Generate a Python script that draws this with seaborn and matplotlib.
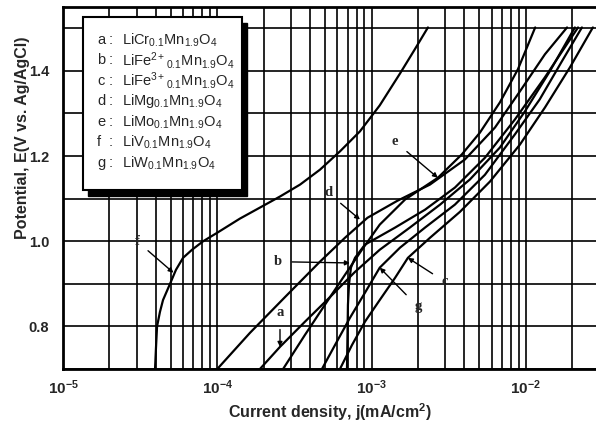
import numpy as np
import pandas as pd
import matplotlib
matplotlib.use("Agg")
import matplotlib.pyplot as plt
import seaborn as sns
from matplotlib.ticker import LogLocator, NullFormatter
from matplotlib.patches import Rectangle

# ---------------- data ----------------
a_j = [1.89e-4, 2.55e-4, 3.70e-4, 5.38e-4, 7.81e-4, 1.13e-3, 1.77e-3, 2.78e-3, 4.34e-3, 6.79e-3, 9.87e-3, 1.43e-2, 2.08e-2]
a_E = [0.70, 0.752, 0.811, 0.869, 0.928, 0.980, 1.032, 1.086, 1.145, 1.220, 1.305, 1.399, 1.502]

b_j = [6.93e-4, 7.03e-4, 7.14e-4, 7.35e-4, 7.81e-4, 9.06e-4, 1.42e-3, 2.22e-3, 3.47e-3, 5.43e-3, 8.50e-3, 1.33e-2, 2.18e-2]
b_E = [0.70, 0.851, 0.898, 0.938, 0.961, 0.992, 1.032, 1.074, 1.126, 1.196, 1.286, 1.385, 1.502]

c_j = [6.24e-4, 7.46e-4, 9.06e-4, 1.13e-3, 1.42e-3, 1.72e-3, 2.39e-3, 3.74e-3, 5.85e-3, 9.16e-3, 1.33e-2, 1.93e-2, 2.72e-2]
c_E = [0.70, 0.756, 0.811, 0.862, 0.914, 0.961, 1.008, 1.069, 1.140, 1.227, 1.314, 1.408, 1.502]

d_j = [1.0e-4, 1.63e-4, 2.75e-4, 4.63e-4, 6.72e-4, 9.40e-4, 1.47e-3, 2.39e-3, 4.03e-3, 6.31e-3, 9.16e-3, 1.33e-2, 1.85e-2]
d_E = [0.70, 0.785, 0.869, 0.952, 1.008, 1.055, 1.095, 1.133, 1.192, 1.267, 1.352, 1.439, 1.502]

e_j = [2.67e-4, 3.70e-4, 4.99e-4, 6.72e-4, 8.66e-4, 1.13e-3, 1.65e-3, 2.69e-3, 3.85e-3, 5.04e-3, 6.79e-3, 8.89e-3, 1.15e-2]
e_E = [0.70, 0.780, 0.851, 0.921, 0.980, 1.039, 1.098, 1.149, 1.204, 1.255, 1.326, 1.404, 1.502]

f_j = [3.95e-5, 4.0e-5, 4.07e-5, 4.25e-5, 4.45e-5, 4.94e-5, 5.40e-5, 6.0e-5, 6.86e-5, 8.1e-5, 1.0e-4,
       1.40e-4, 1.89e-4, 2.55e-4, 3.44e-4, 4.63e-4, 6.24e-4, 8.41e-4, 1.13e-3, 1.53e-3, 1.91e-3, 2.32e-3]
f_E = [0.70, 0.745, 0.80, 0.834, 0.862, 0.90, 0.933, 0.961, 0.980, 1.0, 1.02,
       1.053, 1.079, 1.105, 1.133, 1.168, 1.211, 1.258, 1.319, 1.394, 1.451, 1.502]

g_j = [4.77e-4, 5.79e-4, 7.24e-4, 9.06e-4, 1.13e-3, 1.53e-3, 2.22e-3, 3.47e-3, 5.43e-3, 8.50e-3, 1.23e-2, 1.71e-2, 2.31e-2]
g_E = [0.70, 0.756, 0.820, 0.879, 0.938, 0.985, 1.032, 1.086, 1.156, 1.251, 1.333, 1.422, 1.502]

curve_ids = ["a", "b", "c", "d", "e", "f", "g"]
legend_formulas = [
    r"$\mathrm{LiCr_{0.1}Mn_{1.9}O_4}$",
    r"$\mathrm{LiFe^{2+}{}_{0.1}Mn_{1.9}O_4}$",
    r"$\mathrm{LiFe^{3+}{}_{0.1}Mn_{1.9}O_4}$",
    r"$\mathrm{LiMg_{0.1}Mn_{1.9}O_4}$",
    r"$\mathrm{LiMo_{0.1}Mn_{1.9}O_4}$",
    r"$\mathrm{LiV_{0.1}Mn_{1.9}O_4}$",
    r"$\mathrm{LiW_{0.1}Mn_{1.9}O_4}$",
]

# annotation labels: text position and arrow tip (data coords)
ann_ids = ["a", "b", "c", "d", "e", "f", "g"]
ann_text_j = [2.55e-4, 2.47e-4, 2.99e-3, 5.22e-4, 1.42e-3, 3.02e-5, 2.0e-3]
ann_text_E = [0.832, 0.952, 0.905, 1.114, 1.234, 1.0, 0.846]
ann_tip_j = [2.55e-4, 7.24e-4, 1.72e-3, 8.41e-4, 2.69e-3, 5.2e-5, 1.13e-3]
ann_tip_E = [0.752, 0.949, 0.961, 1.051, 1.149, 0.926, 0.938]

x_ticks = [1e-5, 1e-4, 1e-3, 1e-2]
x_ticklabels = [r"$\mathbf{10^{-5}}$", r"$\mathbf{10^{-4}}$", r"$\mathbf{10^{-3}}$", r"$\mathbf{10^{-2}}$"]
y_ticks = [0.8, 1.0, 1.2, 1.4]
y_ticklabels = ["0.8", "1.0", "1.2", "1.4"]

# ---------------- build table ----------------
series = {"a": (a_j, a_E), "b": (b_j, b_E), "c": (c_j, c_E), "d": (d_j, d_E),
          "e": (e_j, e_E), "f": (f_j, f_E), "g": (g_j, g_E)}
rows = []
for k in curve_ids:
    js, Es = series[k]
    for i, (j, E) in enumerate(zip(js, Es)):
        rows.append({"sample": k, "j": j, "E": E, "order": i})
df = pd.DataFrame(rows)

# ---------------- style ----------------
sns.set_theme(style="white")
plt.rcParams["font.family"] = ["Liberation Sans", "DejaVu Sans"]
plt.rcParams["mathtext.fontset"] = "custom"
plt.rcParams["mathtext.rm"] = "Liberation Sans"
plt.rcParams["mathtext.bf"] = "Liberation Sans:bold"
plt.rcParams["mathtext.it"] = "Liberation Sans:italic"
plt.rcParams["mathtext.sf"] = "Liberation Sans"

fig = plt.figure(figsize=(5.96, 4.26), dpi=100)
ax = fig.add_axes([63 / 596, 57 / 426, 533 / 596, 362 / 426])

sns.lineplot(data=df, x="j", y="E", hue="sample", palette=["black"] * len(curve_ids),
             sort=False, estimator=None, legend=False, linewidth=1.6, ax=ax, zorder=3)

ax.set_xscale("log")
ax.set_xlim(1e-5, 0.0285)
ax.set_ylim(0.7, 1.55)

ax.set_xticks(x_ticks)
ax.set_xticklabels(x_ticklabels, fontsize=11)
ax.xaxis.set_minor_locator(LogLocator(base=10, subs=np.arange(2, 10), numticks=30))
ax.xaxis.set_minor_formatter(NullFormatter())
ax.set_yticks(y_ticks)
ax.set_yticklabels(y_ticklabels, fontsize=10.5, fontweight="bold")
ax.set_yticks(np.round(np.arange(0.7, 1.51, 0.1), 2), minor=True)

ax.grid(which="both", color="black", linewidth=1.2)
ax.set_axisbelow(True)
ax.tick_params(which="both", length=0)
ax.tick_params(axis="y", pad=10)
ax.tick_params(axis="x", pad=7)

for side in ["left", "bottom", "top"]:
    ax.spines[side].set_color("black")
    ax.spines[side].set_linewidth(2.0)
ax.spines["right"].set_visible(False)

ax.set_xlabel(r"Current density, j(mA/cm$\mathbf{^2}$)", fontsize=11.5, fontweight="bold")
ax.set_ylabel("Potential, E(V vs. Ag/AgCl)", fontsize=11.5, fontweight="bold")
ax.xaxis.set_label_coords(0.5, -0.090)
ax.yaxis.set_label_coords(-0.062, 0.640)

# legend box with drop shadow
bx0, by0, bw, bh = 0.0375, 0.4945, 0.2985, 0.4775
ax.add_patch(Rectangle((bx0 + 5 / 533, by0 - 6 / 362), bw, bh, transform=ax.transAxes,
                       facecolor="black", edgecolor="black", zorder=5))
ax.add_patch(Rectangle((bx0, by0), bw, bh, transform=ax.transAxes,
                       facecolor="white", edgecolor="black", linewidth=1.5, zorder=6))
for i, (lid, form) in enumerate(zip(curve_ids, legend_formulas)):
    yy = (369 - (40 + 20.5 * i)) / 362
    ax.text(0.0638, yy, lid, transform=ax.transAxes, fontsize=10.5, va="center", ha="left", zorder=7)
    ax.text(0.0865, yy, ":", transform=ax.transAxes, fontsize=10.5, va="center", ha="left", zorder=7)
    ax.text(0.1107, yy, form, transform=ax.transAxes, fontsize=10.5, va="center", ha="left", zorder=7)

# curve annotations
for lid, tj, tE, pj, pE in zip(ann_ids, ann_text_j, ann_text_E, ann_tip_j, ann_tip_E):
    ax.annotate(lid, xy=(pj, pE), xytext=(tj, tE), fontsize=10.5, fontweight="bold",
                family=["Liberation Serif", "DejaVu Serif"], ha="center", va="center", zorder=8,
                arrowprops=dict(arrowstyle="-|>", color="black", lw=1.0, mutation_scale=7,
                                shrinkA=5, shrinkB=0))

fig.savefig("out.png", dpi=100)
